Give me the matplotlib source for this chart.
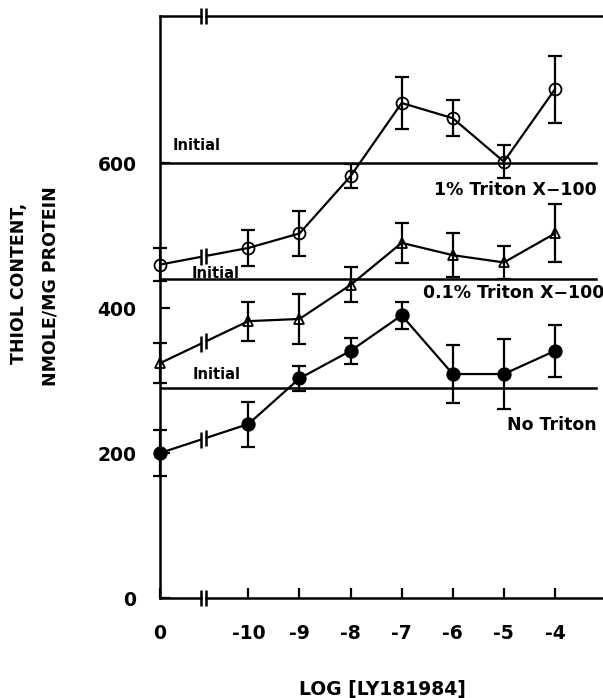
import numpy as np
import matplotlib
matplotlib.use("Agg")
import matplotlib.pyplot as plt

plt.rcParams["font.family"] = ["DejaVu Sans"]
plt.rcParams["font.weight"] = "bold"

# log [LY181984] doses, 0 = control
doses = [0, -10, -9, -8, -7, -6, -5, -4]
tick_labels = ["0", "-10", "-9", "-8", "-7", "-6", "-5", "-4"]

# thiol content, nmole/mg protein
triton_1 = [460, 483, 503, 582, 683, 662, 602, 702]
triton_1_err = [23, 25, 31, 17, 36, 25, 23, 46]
triton_01 = [324, 382, 385, 432, 490, 473, 463, 503]
triton_01_err = [28, 27, 35, 24, 28, 30, 23, 40]
no_triton = [200, 240, 303, 341, 390, 309, 309, 341]
no_triton_err = [32, 31, 17, 18, 19, 40, 48, 36]

initial = [600, 440, 290]
series_names = ["1% Triton X\u2212100", "0.1% Triton X\u2212100", "No Triton"]

# layout of the broken axis: control sits left of the break
ZERO_POS = -11.73
BREAK = (-10.93, -10.82)
xpos = [ZERO_POS if d == 0 else d for d in doses]

fig = plt.figure(figsize=(6.03, 6.98), dpi=100)
ax = fig.add_axes([160 / 603, 1 - 598 / 698, 443 / 603, 582 / 698])
ax.set_xlim(ZERO_POS, -3.06)
ax.set_ylim(0, 803)

lw = 1.6


def draw_series(y, err, marker, ms, filled):
    face = "black" if filled else "none"
    # segment across the break
    yb = np.interp(BREAK, [xpos[0], xpos[1]], [y[0], y[1]])
    ax.plot([xpos[0], BREAK[0]], [y[0], yb[0]], color="black", lw=lw)
    ax.plot([BREAK[1], xpos[1]], [yb[1], y[1]], color="black", lw=lw)
    ax.plot(BREAK, yb, ls="none", marker="|", ms=11, mew=1.8, color="black")
    ax.plot(xpos[1:], y[1:], color="black", lw=lw)
    ax.errorbar(xpos, y, yerr=err, fmt="none", ecolor="black", elinewidth=1.6,
                capsize=5, capthick=1.6, clip_on=False)
    ax.plot(xpos, y, ls="none", marker=marker, ms=ms, mfc=face, mec="black",
            mew=1.3, clip_on=False)


draw_series(triton_1, triton_1_err, "o", 8.6, False)
draw_series(triton_01, triton_01_err, "^", 7.5, False)
draw_series(no_triton, no_triton_err, "o", 9, True)

# initial levels
for v in initial:
    ax.plot([ZERO_POS, -3.2], [v, v], color="black", lw=1.8)

ax.text(-11.49, initial[0] + 14, "Initial", fontsize=10.5, ha="left", va="bottom")
ax.text(-11.12, initial[1] - 2, "Initial", fontsize=10.5, ha="left", va="bottom")
ax.text(-11.1, initial[2] + 8, "Initial", fontsize=10.5, ha="left", va="bottom")

ax.text(-3.18, 563, series_names[0], fontsize=12.5, ha="right", va="center")
ax.text(-3.03, 421, series_names[1], fontsize=12.5, ha="right", va="center")
ax.text(-3.18, 239, series_names[2], fontsize=12.5, ha="right", va="center")

# spines with breaks
for s in ["top", "bottom", "right"]:
    ax.spines[s].set_visible(False)
ax.spines["left"].set_linewidth(1.8)
tr = ax.get_xaxis_transform()
for yy in [0, 1]:
    ax.plot([ZERO_POS, BREAK[0]], [yy, yy], transform=tr, color="black", lw=1.8, clip_on=False)
    ax.plot([BREAK[1], -3.06], [yy, yy], transform=tr, color="black", lw=1.8, clip_on=False)
    ax.plot(BREAK, [yy, yy], transform=tr, ls="none", marker="|", ms=11, mew=1.8,
            color="black", clip_on=False)

ax.set_xticks(xpos)
ax.set_xticklabels(tick_labels)
ax.set_yticks([0, 200, 400, 600])
ax.tick_params(axis="both", direction="in", length=7, width=1.6, labelsize=13.5)
ax.tick_params(axis="x", pad=19)
ax.tick_params(axis="y", pad=17)

fig.text(382 / 603, 1 - 690 / 698, "LOG [LY181984]", fontsize=13.5, ha="center", va="center")
fig.text(19 / 603, 1 - 283 / 698, "THIOL CONTENT,", fontsize=12.5, rotation=90,
         ha="center", va="center")
fig.text(51 / 603, 1 - 286 / 698, "NMOLE/MG PROTEIN", fontsize=12.5, rotation=90,
         ha="center", va="center")

fig.savefig("out.png", dpi=100)
